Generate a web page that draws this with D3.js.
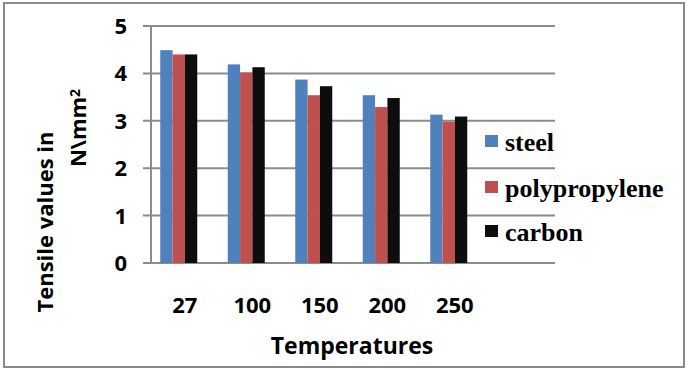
<!DOCTYPE html>
<html>
<head>
<meta charset="utf-8">
<script src="https://cdn.jsdelivr.net/npm/d3@7"></script>
<style>
  body { margin: 0; background: #fff; }
  svg text { font-family: "Open Sans", sans-serif; font-weight: bold; fill: #000; }
  .legend text { font-family: "Liberation Serif", "Times New Roman", serif; }
</style>
</head>
<body>
<div id="chart"></div>
<script>
// chart values
var temperatures = ["27", "100", "150", "200", "250"];
var seriesNames = ["steel", "polypropylene", "carbon"];
var steel = [4.49, 4.19, 3.87, 3.54, 3.13];
var polypropylene = [4.40, 4.02, 3.54, 3.29, 2.98];
var carbon = [4.40, 4.13, 3.73, 3.48, 3.09];
var yTicks = [0, 1, 2, 3, 4, 5];
var colors = ["#4F81BD", "#C0504D", "#0D0D0D"];

var svgWidth = 688;
var svgHeight = 370;

var svg = d3.select("#chart")
  .append("svg")
  .attr("width", svgWidth)
  .attr("height", svgHeight);

// outer frame
svg.append("rect")
  .attr("x", 4)
  .attr("y", 3)
  .attr("width", 680)
  .attr("height", 364)
  .attr("fill", "none")
  .attr("stroke", "#8a8a8a")
  .attr("stroke-width", 2);

var plotLeft = 151;
var plotRight = 555;
var yScale = d3.scaleLinear().domain([0, 5]).range([263, 26]);

// category bands (the bars only fill the left part of the plot)
var xScale = d3.scaleBand()
  .domain(temperatures)
  .range([plotLeft, plotLeft + 337.5]);

var inner = d3.scaleBand()
  .domain(seriesNames)
  .range([0, 37]);

// gridlines
svg.append("g")
  .selectAll("line")
  .data(yTicks)
  .enter()
  .append("line")
  .attr("x1", plotLeft - 8)
  .attr("x2", plotRight)
  .attr("y1", d => yScale(d))
  .attr("y2", d => yScale(d))
  .attr("stroke", "#8c8c8c")
  .attr("stroke-width", 2);

// y axis line
svg.append("line")
  .attr("x1", plotLeft)
  .attr("x2", plotLeft)
  .attr("y1", yScale(5))
  .attr("y2", yScale(0))
  .attr("stroke", "#8c8c8c")
  .attr("stroke-width", 2);

// y tick labels
svg.append("g")
  .selectAll("text")
  .data(yTicks)
  .enter()
  .append("text")
  .attr("x", 127)
  .attr("y", d => yScale(d))
  .attr("dy", "0.36em")
  .attr("text-anchor", "end")
  .style("font-size", "22px")
  .text(d => d);

// bars
var data = [steel, polypropylene, carbon];
seriesNames.forEach(function(name, i) {
  svg.append("g")
    .selectAll("rect")
    .data(data[i])
    .enter()
    .append("rect")
    .attr("x", (d, j) => xScale(temperatures[j]) + xScale.bandwidth() / 2 - 24.5 + inner(name))
    .attr("y", d => yScale(d))
    .attr("width", inner.bandwidth())
    .attr("height", d => yScale(0) - yScale(d))
    .attr("fill", colors[i]);
});

// x tick labels
svg.append("g")
  .selectAll("text")
  .data(temperatures)
  .enter()
  .append("text")
  .attr("x", d => xScale(d) + xScale.bandwidth() / 2)
  .attr("y", 313)
  .attr("text-anchor", "middle")
  .style("font-size", "22px")
  .text(d => d);

// axis titles
svg.append("text")
  .attr("x", 352)
  .attr("y", 354)
  .attr("text-anchor", "middle")
  .style("font-size", "23px")
  .text("Temperatures");

svg.append("text")
  .attr("transform", "translate(53, 222) rotate(-90)")
  .attr("text-anchor", "middle")
  .style("font-size", "22px")
  .text("Tensile values in");

var yTitle2 = svg.append("text")
  .attr("transform", "translate(86, 128) rotate(-90)")
  .attr("text-anchor", "middle")
  .style("font-size", "22px");
yTitle2.append("tspan").text("N\\mm");
yTitle2.append("tspan")
  .attr("dy", "-0.45em")
  .style("font-size", "14px")
  .text("2");

// legend
var legend = svg.append("g").attr("class", "legend");
var legendY = [141, 187, 231];
seriesNames.forEach(function(name, i) {
  legend.append("rect")
    .attr("x", 485)
    .attr("y", legendY[i] - 6)
    .attr("width", 13)
    .attr("height", 12)
    .attr("fill", colors[i]);
  legend.append("text")
    .attr("x", 505)
    .attr("y", legendY[i] + 10)
    .style("font-size", "26px")
    .text(name);
});
</script>
</body>
</html>
